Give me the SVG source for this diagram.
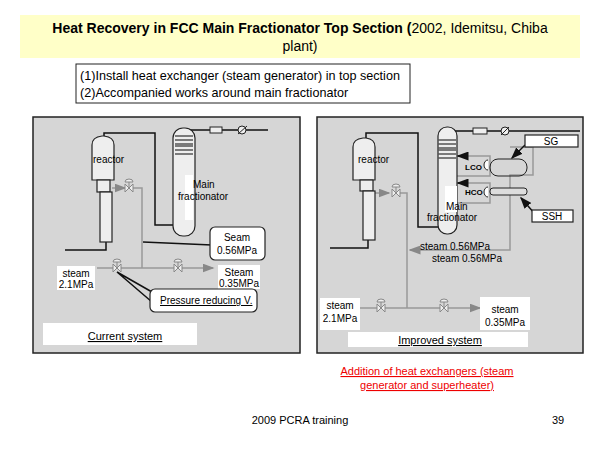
<svg xmlns="http://www.w3.org/2000/svg" width="600" height="450" viewBox="0 0 600 450">
<style>
text{font-family:"Liberation Sans",Arial,sans-serif;fill:#000}
.s{font-size:10px}
.p{fill:#d6d6d6;stroke:#222;stroke-width:1.5}
.l{fill:none;stroke:#111;stroke-width:1.5}
.g{fill:none;stroke:#999;stroke-width:1.5}
.w{fill:#fff;stroke:none}
.eq{fill:#eee;stroke:#222;stroke-width:1.2}
.cb{fill:#fff;stroke:#222;stroke-width:1.2}
</style>
<defs>
<marker id="a" markerWidth="8" markerHeight="6" refX="7" refY="3" orient="auto"><path d="M0,0L8,3L0,6z" fill="#888"/></marker>
<marker id="b" markerWidth="8" markerHeight="6" refX="7" refY="3" orient="auto"><path d="M0,0L8,3L0,6z" fill="#111"/></marker>
<g id="v"><path d="M-4,-4L4,4L4,-4L-4,4z" fill="#eee" stroke="#888"/><path d="M-4,-6A4,3 0 0 1 4,-6z" fill="#eee" stroke="#888"/><line x1="0" y1="-6" x2="0" y2="0" stroke="#888"/></g>
<g id="tr"><path d="M-9,0h18M-9,4h18M-9,8h18" stroke="#555" stroke-width="1.5"/></g>
</defs>
<rect x="0" y="0" width="600" height="450" fill="#fff"/>
<rect x="20" y="15" width="560" height="43" fill="#ffffc8"/>
<text x="300" y="33" text-anchor="middle" font-size="14"><tspan font-weight="bold">Heat Recovery in FCC Main Fractionator Top Section (</tspan>2002, Idemitsu, Chiba</text>
<text x="300" y="51" text-anchor="middle" font-size="14">plant)</text>
<rect x="76" y="64" width="334" height="39" fill="#fff" stroke="#222"/>
<text x="80" y="80" font-size="12.6">(1)Install heat exchanger (steam generator) in top section</text>
<text x="80" y="97" font-size="12.6">(2)Accompanied works around main fractionator</text>

<g id="left">
<rect class="p" x="33" y="117" width="267" height="236"/>
<g id="connectors-left">
<path class="l" d="M104,137V133H155V225H175"/>
<path class="l" d="M184,128V130H268"/>
<path class="l" d="M106,242V250H65"/>
<path class="g" d="M112,188H125" marker-end="url(#a)"/>
<path class="g" d="M133,188H142V268"/>
<path class="g" d="M97,268H213" marker-end="url(#a)"/>
<path class="l" d="M143,242L212,245"/>
<path class="l" d="M117,272L152,292M117,272L152,302"/>
</g>
<g id="reactor-l"><path class="eq" d="M92,145Q92,137 102,136H104Q114,137 114,145V180H92z"/><rect class="eq" x="97" y="180" width="13" height="12"/><rect class="eq" x="100" y="192" width="12" height="50"/><text class="s" x="93" y="163" font-size="11">reactor</text></g>
<g id="frac-l"><rect class="eq" x="173" y="128" width="22" height="108" rx="10"/><use href="#tr" x="184" y="136"/><use href="#tr" x="184" y="146"/><rect class="w" x="185" y="175" width="8" height="45" fill="#fff"/><text class="s" x="193" y="188">Main</text><text class="s" x="178" y="200">fractionator</text></g>
<rect x="210" y="127" width="12" height="6" fill="#eee" stroke="#222"/>
<circle cx="242" cy="130" r="4" fill="#eee" stroke="#222"/><line x1="238" y1="134" x2="247" y2="126" stroke="#222"/>
<use href="#v" x="129" y="188"/><use href="#v" x="117" y="268"/><use href="#v" x="178" y="268"/>
<g id="seam"><rect class="cb" x="210" y="227" width="55" height="33" rx="5"/><text class="s" x="237" y="241" text-anchor="middle">Seam</text><text class="s" x="237" y="254" text-anchor="middle">0.56MPa</text></g>
<g id="st21-l"><rect class="w" x="57" y="266" width="38" height="24" fill="#fff"/><text class="s" x="76" y="277" text-anchor="middle">steam</text><text class="s" x="76" y="288" text-anchor="middle">2.1MPa</text></g>
<g id="st35-l"><rect class="w" x="218" y="265" width="42" height="24" fill="#fff"/><text class="s" x="239" y="276" text-anchor="middle">Steam</text><text class="s" x="239" y="287" text-anchor="middle">0.35MPa</text></g>
<g id="prv"><rect class="cb" x="150" y="289" width="107" height="23" rx="5"/><text class="s" x="160" y="304" text-decoration="underline">Pressure reducing V.</text></g>
<rect x="43" y="323" width="154" height="22" fill="#fff"/>
<text x="125" y="340" text-anchor="middle" font-size="11" text-decoration="underline">Current system</text>
</g>

<g id="right">
<rect class="p" x="317" y="117" width="266" height="236"/>
<g id="connectors-right">
<path class="l" d="M366,139V133H418V227H438"/>
<path class="l" d="M447,127V131H580"/>
<path class="l" d="M368,240V248H330"/>
<path class="g" d="M375,193H389" marker-end="url(#a)"/>
<path class="g" d="M398,193H407V308"/>
<path class="g" d="M360,308H480" marker-end="url(#a)"/>
<path class="g" d="M510,147H533V175H510V250H410" marker-end="url(#a)"/>
<path class="g" d="M457,156H490V176H457M457,183H490V203H457"/>
<path class="l" d="M468,156H458" marker-end="url(#b)"/>
<path class="l" d="M468,183H458" marker-end="url(#b)"/>
<path class="l" d="M525,145L512,158" marker-end="url(#b)"/>
<path class="l" d="M535,214L521,198" marker-end="url(#b)"/>
</g>
<g id="reactor-r"><path class="eq" d="M353,147Q353,139 363,138H366Q375,139 375,147V180H353z"/><rect class="eq" x="360" y="180" width="13" height="11"/><rect class="eq" x="363" y="191" width="12" height="49"/><text class="s" x="358" y="163" font-size="11">reactor</text></g>
<g id="frac-r"><rect class="eq" x="438" y="127" width="19" height="107" rx="9"/><use href="#tr" x="447" y="140"/><use href="#tr" x="447" y="150"/><rect class="w" x="445" y="186" width="12" height="26" fill="#fff"/><text class="s" x="446" y="210">Main</text><text class="s" x="427" y="221">fractionator</text></g>
<rect x="473" y="128" width="14" height="6" fill="#eee" stroke="#222"/>
<circle cx="505" cy="131" r="4" fill="#eee" stroke="#222"/><line x1="501" y1="135" x2="509" y2="127" stroke="#222"/>
<g id="lco"><rect x="490" y="159" width="37" height="17" rx="8" fill="none" stroke="#222"/><path d="M488,160a4,5 0 0 0 0,10" fill="#fff" stroke="#222"/><text x="465" y="170" font-size="8" font-weight="bold">LCO</text></g>
<g id="hco"><rect x="490" y="188" width="37" height="7" rx="3" fill="#ddd" stroke="#222"/><path d="M488,187a4,5 0 0 0 0,10" fill="#fff" stroke="#222"/><text x="465" y="195" font-size="8" font-weight="bold">HCO</text></g>
<g id="sg"><rect class="cb" x="525" y="135" width="53" height="12"/><text class="s" x="551" y="145" text-anchor="middle">SG</text></g>
<g id="ssh"><rect class="cb" x="532" y="210" width="41" height="12"/><text class="s" x="552" y="220" text-anchor="middle">SSH</text></g>
<text class="s" x="420" y="250">steam 0.56MPa</text>
<text class="s" x="432" y="262">steam 0.56MPa</text>
<use href="#v" x="396" y="193"/><use href="#v" x="381" y="308"/><use href="#v" x="444" y="308"/>
<g id="st21-r"><rect x="320" y="298" width="40" height="32" fill="#fff"/><text class="s" x="340" y="309" text-anchor="middle">steam</text><text class="s" x="340" y="322" text-anchor="middle">2.1MPa</text></g>
<g id="st35-r"><rect x="480" y="297" width="50" height="33" fill="#fff"/><text class="s" x="505" y="313" text-anchor="middle">steam</text><text class="s" x="505" y="326" text-anchor="middle">0.35MPa</text></g>
<rect x="348" y="332" width="180" height="15" fill="#fff"/>
<text x="440" y="344" text-anchor="middle" font-size="11" text-decoration="underline">Improved system</text>
</g>

<text x="427" y="375" text-anchor="middle" font-size="11" style="fill:#e00" text-decoration="underline">Addition of heat exchangers (steam</text>
<text x="427" y="389" text-anchor="middle" font-size="11" style="fill:#e00" text-decoration="underline">generator and superheater)</text>
<text x="300" y="424" text-anchor="middle" font-size="11">2009 PCRA training</text>
<text x="558" y="424" text-anchor="middle" font-size="11">39</text>
</svg>
